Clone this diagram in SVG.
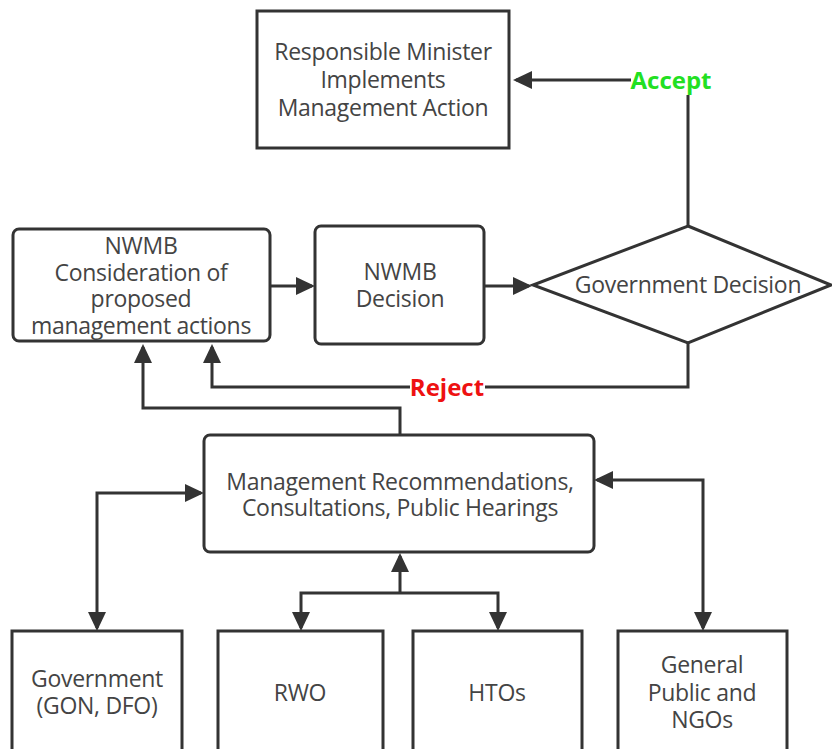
<svg xmlns="http://www.w3.org/2000/svg" width="832" height="749" viewBox="0 0 832 749">
<style>
.box{fill:#fff;stroke:#333;stroke-width:3}
.t{font-family:"Open Sans","Noto Sans","Liberation Sans",sans-serif;font-size:23px;fill:#444;text-anchor:middle;letter-spacing:-0.3px}
.c{fill:none;stroke:#333;stroke-width:3}
.lbl{font-family:"Open Sans","Noto Sans","Liberation Sans",sans-serif;font-size:24px;font-weight:bold;text-anchor:middle}
</style>
<defs>
<marker id="ah" markerUnits="userSpaceOnUse" markerWidth="20" markerHeight="18" viewBox="0 0 20 18" refX="16" refY="9" orient="auto-start-reverse">
<path d="M0,0 L19,9 L0,18 z" fill="#333"/>
</marker>
</defs>
<rect width="832" height="749" fill="#fff"/>

<g id="connectors">
<path class="c" d="M688,226 V80 H516" marker-end="url(#ah)"/>
<path class="c" d="M270,286 H312" marker-end="url(#ah)"/>
<path class="c" d="M484,286 H529" marker-end="url(#ah)"/>
<path class="c" d="M688,343 V387 H212 V347" marker-end="url(#ah)"/>
<path class="c" d="M400,435 V408 H143 V347" marker-end="url(#ah)"/>
<path class="c" d="M97,628 V493 H201" marker-start="url(#ah)" marker-end="url(#ah)"/>
<path class="c" d="M703,628 V480 H597" marker-start="url(#ah)" marker-end="url(#ah)"/>
<path class="c" d="M400,593 V556" marker-end="url(#ah)"/>
<path class="c" d="M301,628 V593 H498 V628" marker-start="url(#ah)" marker-end="url(#ah)"/>
<rect x="631" y="66" width="82" height="29" fill="#fff"/>
<text class="lbl" x="671" y="89" fill="#22e022">Accept</text>
<rect x="410" y="374" width="75" height="28" fill="#fff"/>
<text class="lbl" x="447" y="396" fill="#ee1111">Reject</text>
</g>

<g id="minister">
<rect class="box" x="257" y="11" width="252" height="137"/>
<text class="t" x="383" y="60">Responsible Minister</text>
<text class="t" x="383" y="88">Implements</text>
<text class="t" x="383" y="116">Management Action</text>
</g>

<g id="nwmb-consideration">
<rect class="box" x="13" y="229" width="257" height="112" rx="6"/>
<text class="t" x="141" y="254">NWMB</text>
<text class="t" x="141" y="281">Consideration of</text>
<text class="t" x="141" y="307">proposed</text>
<text class="t" x="141" y="334">management actions</text>
</g>

<g id="nwmb-decision">
<rect class="box" x="315" y="226" width="169" height="118" rx="6"/>
<text class="t" x="400" y="280">NWMB</text>
<text class="t" x="400" y="307">Decision</text>
</g>

<g id="gov-decision">
<polygon class="box" points="688,226 831,285 688,343 533,285"/>
<text class="t" x="688" y="293">Government Decision</text>
</g>

<g id="mgmt">
<rect class="box" x="204" y="435" width="390" height="117" rx="6"/>
<text class="t" x="400" y="490">Management Recommendations,</text>
<text class="t" x="400" y="516">Consultations, Public Hearings</text>
</g>

<g id="government">
<rect class="box" x="12" y="631" width="170" height="130"/>
<text class="t" x="97" y="687">Government</text>
<text class="t" x="97" y="714">(GON, DFO)</text>
</g>

<g id="rwo">
<rect class="box" x="218" y="631" width="165" height="130"/>
<text class="t" x="300" y="701">RWO</text>
</g>

<g id="htos">
<rect class="box" x="413" y="631" width="169" height="130"/>
<text class="t" x="497" y="701">HTOs</text>
</g>

<g id="public">
<rect class="box" x="618" y="631" width="169" height="130"/>
<text class="t" x="702" y="673">General</text>
<text class="t" x="702" y="701">Public and</text>
<text class="t" x="702" y="728">NGOs</text>
</g>
</svg>
